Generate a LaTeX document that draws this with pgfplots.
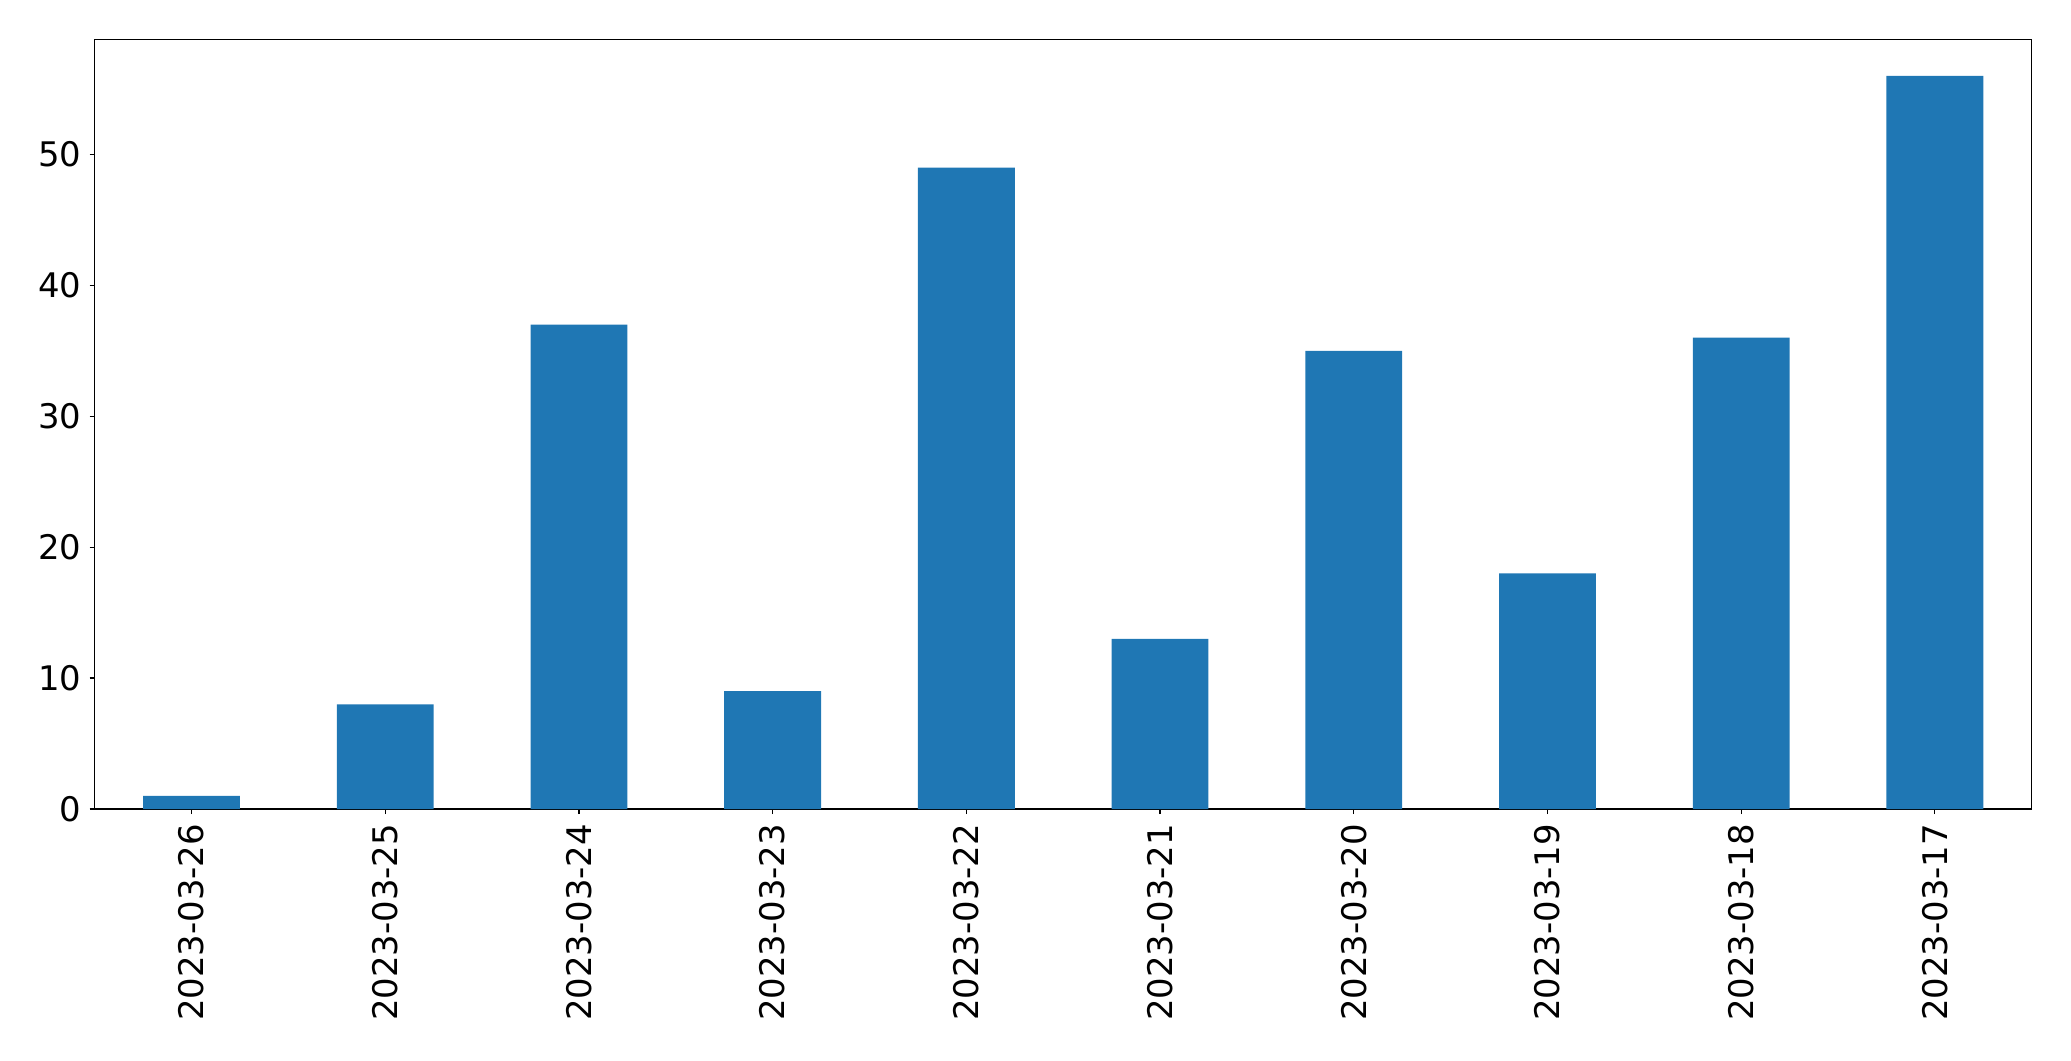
\documentclass[border=0pt]{standalone}
\usepackage{pgfplots}
\pgfplotsset{compat=1.18}
\usepackage{fontspec}
\setmainfont{DejaVu Sans}
\definecolor{mplblue}{HTML}{1F77B4}
\begin{document}
\begin{tikzpicture}
\begin{axis}[
  at={(0,0)}, anchor=south west,
  scale only axis,
  width=968.5bp, height=384.85bp,
  xmin=-0.5, xmax=9.5,
  ymin=0, ymax=58.8,
  xtick={0,...,9},
  xticklabels={2023-03-26,2023-03-25,2023-03-24,2023-03-23,2023-03-22,2023-03-21,2023-03-20,2023-03-19,2023-03-18,2023-03-17},
  ytick={0,10,20,30,40,50},
  tick align=outside,
  tick pos=left,
  major tick length=2.5bp,
  axis line style={line width=0.6bp},
  every tick/.style={black, line width=0.6bp},
  tick label style={font=\fontsize{17}{20}\selectfont},
  /pgf/number format/assume math mode=true,
  xticklabel style={rotate=90, anchor=east, inner sep=0pt, outer sep=0pt, yshift=0bp, xshift=-5bp},
  yticklabel style={inner sep=0pt, xshift=-4bp},
  ybar, bar width=0.5,
]
\addplot[fill=mplblue, draw=none] coordinates {
(0,1) (1,8) (2,37) (3,9) (4,49) (5,13) (6,35) (7,18) (8,36) (9,56)
};
\end{axis}
\path[use as bounding box] (-47.35bp,-126bp) rectangle (988.15bp,404.5bp);
\end{tikzpicture}
\end{document}
